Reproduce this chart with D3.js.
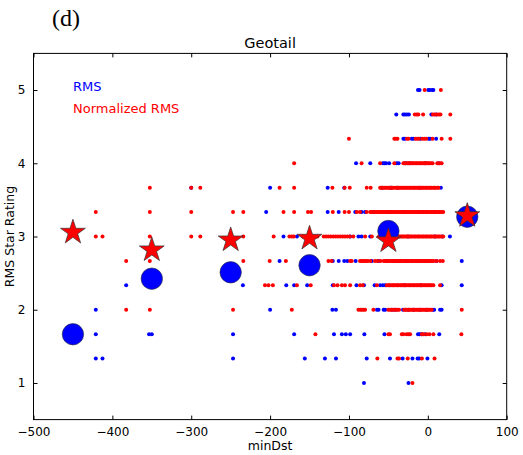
<!DOCTYPE html>
<html>
<head>
<meta charset="utf-8">
<script src="https://cdn.jsdelivr.net/npm/d3@7"></script>
<style>
  html, body { margin: 0; padding: 0; background: #fff; }
  svg { display: block; }
  text { font-family: "DejaVu Sans", sans-serif; }
</style>
</head>
<body>
<svg id="chart" width="523" height="455"></svg>
<script>
// Star-rating levels (averages of three ratings)
const ratingLevels = [5.0, 4.667, 4.333, 4.0, 3.667, 3.333, 3.0, 2.667, 2.333, 2.0, 1.667, 1.333, 1.0];

// Individual events: minDst values at each RMS star rating
const rmsDst = [
  [-12.5, -10.5, 0.5, 2.5, 5.5, 7],
  [-40, -31, -29, -26.5, -24, 4.5, 10.5],
  [-31, -29, -20.5, -18, -9.5, 1, 3, 10.5],
  [-91, -73, -57, -55, -53, -49, -39.5, -37, -28, -23, -3, 14],
  [-300, -200, -127, -106, -58, -48, -46, -38, -10, 16.5],
  [-205, -127, -113, -92, -84, -79.5, -69, -49, -30, -12, 8],
  [-183, -166, -98.5, -88, -84, -73, -60, -25, 9, 18.5, 28],
  [-188, -120.5, -113, -106, -102, -91.5, -71, -62.5, -52, -43, -37, -27, -14, -3, 11, 43],
  [-382.5, -234.5, -179.5, -169.5, -153, -120.5, -90.5, -81, -67.5, -60.5, -57, -54, -30, -9, 17.5, 43],
  [-421, -200, -121, -116.5, -64.5, -62.5, -56, -54, -45.5, -41.5, -31.5, -25, -18, -10, -2, 6.5, 8, 15.5, 17.5],
  [-421, -353.5, -350, -247, -169.5, -119, -109, -104, -98.5, -80.5, -55, -12.5, -10.5, -8, -3.5, 14.5],
  [-421, -412.5, -247, -156, -130.5, -116.5, -77.5, -48, -32, -19.5, -13, -11, -0.5],
  [-81, -24.5]
];

// Individual events: minDst values at each normalized-RMS star rating
const normDst = [
  [-4, 16.5],
  [-16.5, -14, -12, -6, 6.5, 8.5, 11.5, 14, 16, 28.5],
  [-100, -42.5, -40.5, -38.5, -26.5, -24.5, -15.5, -13.5, -11.5, -7, -4.5, -2, 6, 17.5, 28.5],
  [-169.5, -84, -60.5, -42.5, -31, -29.5, -28, -26, -24.5, -23, -21, -19.5, -18, -16, -14.5, -13, -11,
   -9.5, -8, -6, -4.5, -3, -1, 0.5, 2, 4, 6, 12, 15, 17.5],
  [-352.5, -300, -288.5, -188, -169.5, -121, -105.5, -99, -77.5, -72.5, -60.5, -59, -57, -55.5, -54, -52,
   -50.5, -49, -47, -45.5, -44, -41.5, -40, -38, -36.5, -35, -33, -31.5, -30, -28, -26.5, -25, -23, -21.5,
   -20, -18, -16.5, -15, -13, -11.5, -10, -8, -6.5, -5, -3, -1.5, 0, 2, 3.5, 5, 7, 8.5, 10, 12, 13.5],
  [-421, -352.5, -300, -247, -234, -183, -169.5, -152, -148, -120.5, -105.5, -100, -90, -86, -77.5, -73,
   -71.5, -70, -68, -66.5, -65, -63, -61.5, -60, -58, -56.5, -55, -53, -51.5, -50, -48, -46.5, -45, -43,
   -41.5, -40, -38, -36.5, -35, -33, -31.5, -30, -28, -26.5, -25, -23, -21.5, -20, -18, -16.5, -15, -13,
   -11.5, -10, -8, -6.5, -5, -3, -1.5, 0, 2, 3.5, 5, 7, 8.5, 10, 12, 13.5, 15, 17, 19.5],
  [-421, -412.5, -352.5, -300, -288.5, -234, -195.5, -175.5, -172.5, -170, -158, -152, -146, -140, -132,
   -129, -126, -123, -120, -117, -114, -111, -108, -105, -102, -99, -94.5, -79.5, -71, -62, -60, -58, -56,
   -54, -52, -50, -48, -46.5, -45, -43, -41.5, -40, -38, -36.5, -35, -33, -31.5, -30, -28, -26.5, -25, -23,
   -21.5, -20, -18, -16.5, -15, -13, -11.5, -10, -8, -6.5, -5, -3, -1.5, 0, 2, 3.5, 5, 7, 8.5, 10, 12, 13.5,
   15, 17, 19.5],
  [-382.5, -352.5, -234, -200.5, -180, -126, -122, -98.5, -96.5, -86, -84, -82, -80, -78, -76, -73, -67,
   -64, -60, -56, -54, -52, -50, -48, -46, -44.5, -43, -41, -39.5, -38, -36, -34.5, -33, -31, -29.5, -28,
   -26, -24.5, -23, -21, -19.5, -18, -16, -14.5, -13, -11, -9.5, -8, -6, -4.5, -3, -1, 0.5, 2, 4, 5.5, 7.5,
   11, 15.5, 19],
  [-206.5, -202, -196.5, -166, -148.5, -119, -114.5, -109, -105, -98.5, -86, -82.5, -64.5, -52, -50, -48.5,
   -47, -45, -43.5, -42, -40, -38.5, -37, -35, -33.5, -32, -30, -28.5, -27, -25, -23.5, -22, -20, -18.5,
   -17, -15, -13.5, -12, -10, -8.5, -7, -5, -3.5, -2, 0, 1.5, 3, 5, 7, 15.5],
  [-382.5, -352.5, -247, -172.5, -88, -85.5, -83.5, -81.5, -79.5, -69, -50, -48, -46, -44, -42, -40, -38,
   -36.5, -30, -28.5, -27, -25, -23.5, -22, -20, -18.5, -17, -15, -13.5, -12, -10, -8.5, -7, -5, -3.5,
   -1.5, 0, 1.5, 3, 5, 43],
  [-142.5, -50, -48, -33, -31, -27, -24.5, -22.5, -7.5, -5.5, -1.5, 2, 7, 42.5],
  [-64, -38.5, -36.5, -25.5, -7.5, 8.5],
  [-19.5]
];

// Bin means of star rating per 100 nT minDst bin
const binCenters = [-450, -350, -250, -150, -50, 50];
const rmsMean = [1.665, 2.424, 2.511, 2.607, 3.075, 3.27];
const normMean = [3.057, 2.816, 2.952, 2.975, 2.94, 3.284];

// Axis ticks
const xTicks = [-500, -400, -300, -200, -100, 0, 100];
const yTicks = [1, 2, 3, 4, 5];

const svg = d3.select("#chart");
const plotLeft = 33.5, plotRight = 506.7, plotTop = 53.4, plotBottom = 419.6;

const x = d3.scaleLinear().domain([-500, 100]).range([plotLeft, plotRight]);
const y = d3.scaleLinear().domain([0.5, 5.5]).range([plotBottom, plotTop]);

const blue = "#0000ff", red = "#ff0000";

// Panel label and title
svg.append("text").attr("x", 52).attr("y", 26)
  .style("font-family", "'Liberation Serif', 'Times New Roman', serif")
  .style("font-size", "24px").text("(d)");
svg.append("text").attr("x", (plotLeft + plotRight) / 2).attr("y", 47.5)
  .attr("text-anchor", "middle").style("font-size", "14.5px").text("Geotail");

// Flatten rows into points
function toPoints(rows) {
  const pts = [];
  rows.forEach((vals, i) => vals.forEach(v => pts.push({ dst: v, rating: ratingLevels[i] })));
  return pts;
}

const plot = svg.append("g");

plot.selectAll("circle.rms").data(toPoints(rmsDst)).join("circle")
  .attr("class", "rms")
  .attr("cx", d => x(d.dst)).attr("cy", d => y(d.rating)).attr("r", 2)
  .attr("fill", blue);

plot.selectAll("circle.norm").data(toPoints(normDst)).join("circle")
  .attr("class", "norm")
  .attr("cx", d => x(d.dst)).attr("cy", d => y(d.rating)).attr("r", 2)
  .attr("fill", red);

// Bin means: big blue circles and red stars
plot.selectAll("circle.mean").data(binCenters).join("circle")
  .attr("class", "mean")
  .attr("cx", d => x(d)).attr("cy", (d, i) => y(rmsMean[i])).attr("r", 10.7)
  .attr("fill", blue).attr("stroke", "#333").attr("stroke-width", 0.6);

const star = d3.symbol().type(d3.symbolStar).size(192);
plot.selectAll("path.mean").data(binCenters).join("path")
  .attr("class", "mean")
  .attr("d", star)
  .attr("transform", (d, i) => `translate(${x(d)},${y(normMean[i])})`)
  .attr("fill", red).attr("stroke", "#333").attr("stroke-width", 0.7);

// Frame
svg.append("rect").attr("x", plotLeft).attr("y", plotTop)
  .attr("width", plotRight - plotLeft).attr("height", plotBottom - plotTop)
  .attr("fill", "none").attr("stroke", "#000").attr("stroke-width", 1);

// Axes with inward ticks on all four sides
const fmt = d3.format("");
const axB = svg.append("g").attr("transform", `translate(0,${plotBottom})`)
  .call(d3.axisBottom(x).tickValues(xTicks).tickSizeInner(-4).tickSizeOuter(0).tickPadding(8).tickFormat(fmt));
const axT = svg.append("g").attr("transform", `translate(0,${plotTop})`)
  .call(d3.axisTop(x).tickValues(xTicks).tickSizeInner(-4).tickSizeOuter(0).tickFormat(""));
const axL = svg.append("g").attr("transform", `translate(${plotLeft},0)`)
  .call(d3.axisLeft(y).tickValues(yTicks).tickSizeInner(-4).tickSizeOuter(0).tickPadding(8).tickFormat(fmt));
const axR = svg.append("g").attr("transform", `translate(${plotRight},0)`)
  .call(d3.axisRight(y).tickValues(yTicks).tickSizeInner(-4).tickSizeOuter(0).tickFormat(""));
[axB, axT, axL, axR].forEach(a => {
  a.select(".domain").remove();
  a.selectAll("line").attr("stroke", "#000");
  a.selectAll("text").style("font-family", "'DejaVu Sans', sans-serif").style("font-size", "12px").attr("fill", "#000");
});

// Axis titles
svg.append("text").attr("x", (plotLeft + plotRight) / 2).attr("y", 450)
  .attr("text-anchor", "middle").style("font-size", "12.5px").text("minDst");
svg.append("text").attr("transform", `translate(14,${(plotTop + plotBottom) / 2}) rotate(-90)`)
  .attr("text-anchor", "middle").style("font-size", "12.5px").text("RMS Star Rating");

// Legend text
svg.append("text").attr("x", 73).attr("y", 90.5).attr("fill", blue)
  .style("font-size", "13px").text("RMS");
svg.append("text").attr("x", 73).attr("y", 112.5).attr("fill", red)
  .style("font-size", "13px").text("Normalized RMS");
</script>
</body>
</html>
